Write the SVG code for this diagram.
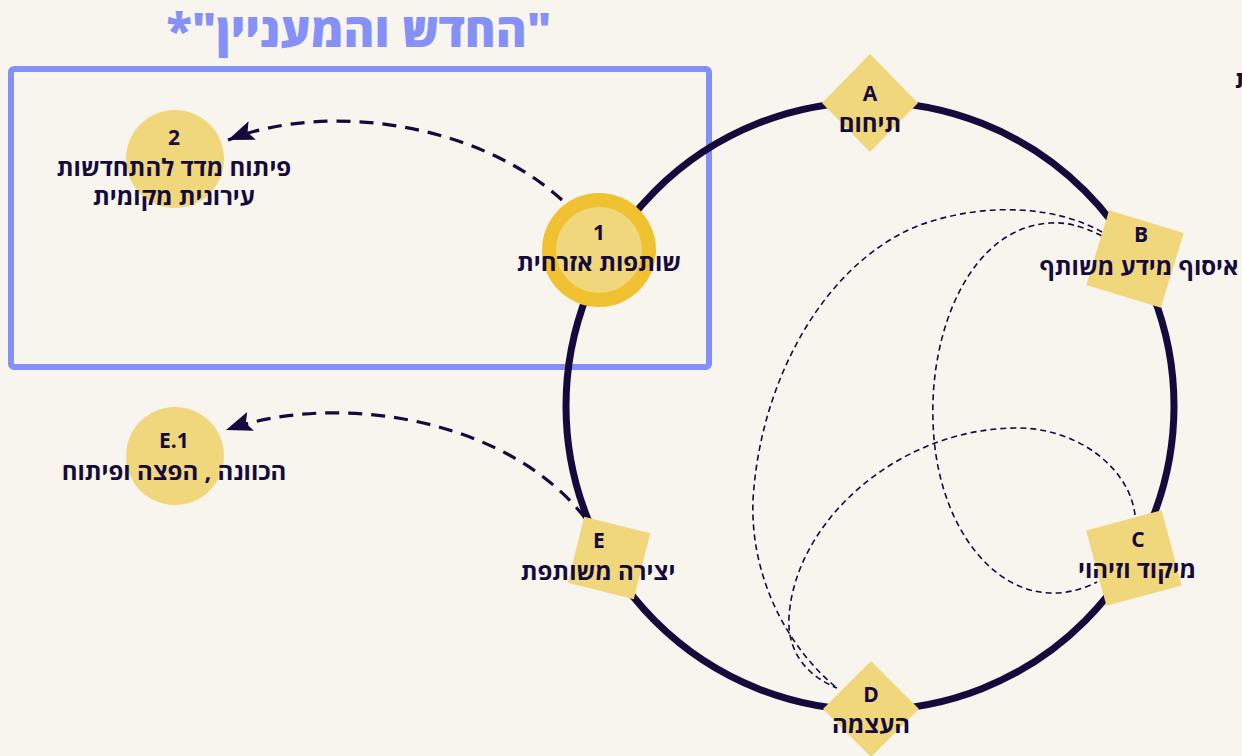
<svg xmlns="http://www.w3.org/2000/svg" width="1242" height="756" viewBox="0 0 1242 756">
<defs>
<style>
.lbl{font-family:"Open Sans","DejaVu Sans",sans-serif;font-weight:700;font-size:24px;fill:#150a3c;text-anchor:middle;direction:rtl;unicode-bidi:embed}
.key{font-family:"Open Sans","DejaVu Sans",sans-serif;font-weight:700;font-size:21px;fill:#150a3c;text-anchor:middle}
.ttl{font-family:"Open Sans","DejaVu Sans",sans-serif;font-weight:800;font-size:47px;fill:#8590f8;text-anchor:middle;direction:rtl;unicode-bidi:embed}
.yel{fill:#f0d77c}
.thin{fill:none;stroke:#150a3c;stroke-width:1.6;stroke-dasharray:6 4}
.thick{fill:none;stroke:#150a3c;stroke-width:3.2;stroke-dasharray:14 9}
</style>
<marker id="ah2" viewBox="0 0 26 20" refX="26" refY="10" markerWidth="26" markerHeight="20" markerUnits="userSpaceOnUse" orient="auto">
<path d="M0,0 L26,10 L0,20 L5,10 Z" fill="#150a3c"/>
</marker>
</defs>
<rect width="1242" height="756" fill="#f8f5ee"/>
<text class="ttl" x="359" y="47">"החדש והמעניין"*</text>
<rect x="11" y="69" width="698" height="298" rx="3" fill="none" stroke="#8390f7" stroke-width="6"/>
<text class="lbl" x="1235" y="88" style="text-anchor:start;direction:ltr">ת</text>
<circle cx="870" cy="406" r="304" fill="none" stroke="#150a3c" stroke-width="7"/>
<g id="connectors">
<path class="thin" d="M1102 232 C1060 208 990 200 920 225 C825 262 760 380 753 500 C750 580 790 650 837 688"/>
<path class="thin" d="M1102 236 C1080 225 1065 222 1050 223 C970 228 930 330 933 420 C935 520 990 595 1055 593 C1070 593 1085 588 1097 582"/>
<path class="thin" d="M1135 515 C1130 470 1080 428 1017 428 C900 428 795 520 789 617 C787 650 805 675 837 688"/>
<path class="thick" d="M562 200 C480 125 330 100 228 140" marker-end="url(#ah2)"/>
<path class="thick" d="M585 518 C510 420 340 390 226 430" marker-end="url(#ah2)"/>
</g>
<g id="node-1">
<circle cx="599" cy="250" r="57" fill="#f0c232"/>
<circle cx="599" cy="250" r="43" class="yel"/>
<text class="key" x="599" y="240">1</text>
<text class="lbl" x="599" y="271">שותפות אזרחית</text>
</g>
<g id="node-2">
<circle cx="175" cy="159" r="49" class="yel"/>
<text class="key" x="174" y="145">2</text>
<text class="lbl" x="174" y="176">פיתוח מדד להתחדשות</text>
<text class="lbl" x="174" y="205">עירונית מקומית</text>
</g>
<g id="node-e1">
<circle cx="175" cy="456" r="49" class="yel"/>
<text class="key" x="174" y="448">E.1</text>
<text class="lbl" x="174" y="480">הכוונה , הפצה ופיתוח</text>
</g>
<g id="node-a">
<polygon points="870,54 918,103 870,152 822,103" class="yel"/>
<text class="key" x="870" y="101">A</text>
<text class="lbl" x="870" y="132">תיחום</text>
</g>
<g id="node-b">
<rect x="-39" y="-39" width="78" height="78" class="yel" transform="translate(1135,259) rotate(17)"/>
<text class="key" x="1141" y="242">B</text>
<text class="lbl" x="1139" y="275">איסוף מידע משותף</text>
</g>
<g id="node-c">
<rect x="-39" y="-39" width="78" height="78" class="yel" transform="translate(1134,558) rotate(-15)"/>
<text class="key" x="1138" y="547">C</text>
<text class="lbl" x="1137" y="578">מיקוד וזיהוי</text>
</g>
<g id="node-d">
<polygon points="871,661 919,709 871,757 823,709" class="yel"/>
<text class="key" x="871" y="702">D</text>
<text class="lbl" x="871" y="733">העצמה</text>
</g>
<g id="node-e">
<rect x="-34" y="-34" width="68" height="68" class="yel" transform="translate(609,558) rotate(14)"/>
<text class="key" x="599" y="548">E</text>
<text class="lbl" x="598" y="580">יצירה משותפת</text>
</g>
</svg>
